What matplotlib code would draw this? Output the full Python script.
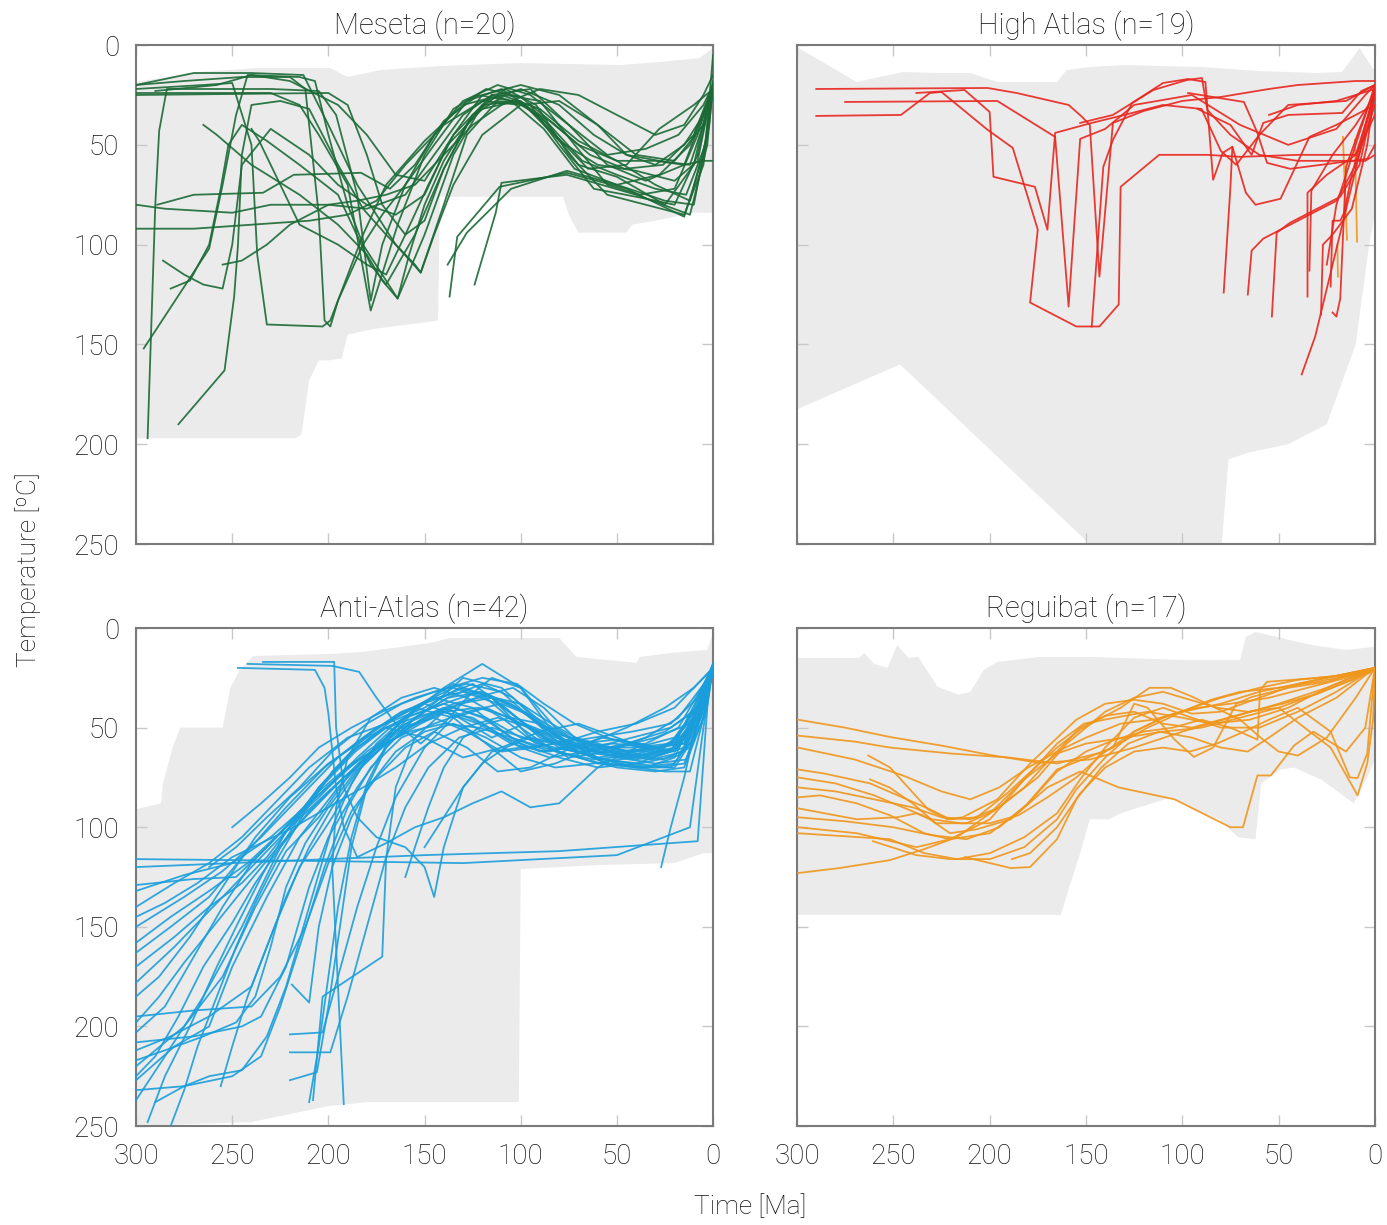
import matplotlib
matplotlib.use("Agg")
import matplotlib.pyplot as plt

# ---- panel titles / colours ----
titles = ["Meseta (n=20)", "High Atlas (n=19)", "Anti-Atlas (n=42)", "Reguibat (n=17)"]
colors = ["#1b6a36", "#e8261f", "#1a9edb", "#f0961c"]
xticks = [300, 250, 200, 150, 100, 50, 0]
yticks = [0, 50, 100, 150, 200, 250]

# ---- grey envelopes: (time Ma, temperature C) ----
meseta_env_top = [(300, 18.5), (268, 13.5), (236, 11.5), (199, 11.5), (190, 16), (173, 12.5),
                  (142, 10.5), (100, 9), (48, 10), (28, 8.5), (7, 6.5), (0, 1.5)]
meseta_env_bot = [(0, 84), (10, 84), (20, 86), (30, 88), (42, 90), (45, 94), (70, 94), (75, 85),
                  (78, 76), (137, 76), (142, 76), (143, 138), (150, 139), (175, 142), (190, 145),
                  (193, 157), (200, 158), (205, 158), (210, 168), (214, 195), (217, 197), (300, 197)]

hatlas_env_top = [(300, 1), (269, 18.5), (245, 13.5), (226, 14), (210, 14), (196, 18.5), (165, 18.5),
                  (160, 12.5), (148, 11), (130, 10), (90, 11), (60, 13), (30, 14), (17, 13.5),
                  (8, 1.5), (1, 12), (0, 12)]
hatlas_env_bot = [(0, 85), (3, 100), (10, 150), (25, 190), (45, 200), (65, 204), (76, 207.5),
                  (80.5, 262), (135, 262), (246.5, 160), (300, 182.5)]

antiatlas_env_top = [(300, 91), (287, 88), (286, 78), (281, 60), (277, 50), (255, 50), (251, 30),
                     (246, 21), (239, 14), (199, 13), (182, 12), (147, 7.5), (137, 5), (80, 5),
                     (71, 14.5), (40, 17.5), (38, 14.5), (22, 12.5), (3, 11), (0, 2)]
antiatlas_env_bot = [(0, 113), (5, 113), (20, 118), (60, 119), (100, 121), (101, 238),
                     (180, 238), (200, 240), (240, 248), (300, 250)]

reguibat_env_top = [(300, 15), (268, 15), (265, 12.5), (260, 18), (253, 20), (248, 8.5), (242, 15),
                    (237, 14.5), (227, 29.5), (216, 33.5), (210, 32), (203, 21), (196, 17),
                    (174, 14.5), (148, 14.5), (100, 16), (70, 16), (67, 4.5), (62, 2), (33, 8.5),
                    (15, 11), (1, 9.5), (0, 9)]
reguibat_env_bot = [(0, 66), (4, 75), (11, 88), (18, 83), (28, 76), (42, 70), (49, 71), (59, 78),
                    (62, 106), (71, 105), (81, 96), (92, 92), (106, 85), (132, 93), (138, 96),
                    (148, 96), (153, 113), (158, 128), (163, 144), (300, 144)]

# ---- thermal histories (time Ma, temperature C) ----
meseta_paths = [
    [(300, 25), (200, 24), (190, 30), (180, 55), (172, 80), (160, 95), (150, 88), (140, 62), (128, 40),
     (115, 25), (95, 22), (75, 40), (55, 60), (35, 68), (15, 60), (5, 35), (0, 20)],
    [(294, 197), (290, 80), (288, 43), (284, 22), (230, 22), (205, 23), (196, 35), (185, 75), (178, 128),
     (172, 100), (160, 70), (145, 50), (128, 28), (110, 22), (90, 35), (70, 60), (50, 66), (25, 80),
     (10, 60), (0, 18)],
    [(296, 152), (262, 102), (255, 70), (248, 35), (242, 15), (215, 16), (207, 18), (200, 45), (190, 80),
     (182, 100), (164, 127), (150, 95), (135, 55), (120, 30), (100, 28), (82, 45), (65, 62), (45, 60),
     (28, 42), (10, 30), (0, 22)],
    [(278, 190), (254, 163), (249, 126), (247, 100), (245, 55), (240, 30), (225, 28), (210, 32), (195, 60),
     (182, 82), (170, 95), (155, 110), (152, 114), (140, 80), (128, 45), (112, 28), (95, 30), (80, 50),
     (62, 72), (40, 76), (20, 80), (8, 55), (0, 20)],
    [(289, 80), (270, 75), (234, 74), (218, 65), (183, 64), (168, 72), (155, 60), (140, 38), (122, 25),
     (105, 28), (88, 42), (72, 62), (50, 70), (28, 65), (12, 50), (0, 22)],
    [(282, 122), (272, 118), (262, 100), (256, 72), (252, 50), (245, 40), (232, 48), (215, 60), (195, 75),
     (178, 110), (170, 120), (155, 95), (140, 62), (125, 35), (108, 22), (92, 30), (75, 55), (55, 75),
     (35, 80), (15, 85), (5, 60), (0, 20)],
    [(300, 22), (265, 20), (250, 19), (240, 50), (237, 105), (232, 140), (203, 141), (199, 138), (195, 128),
     (182, 95), (170, 70), (150, 48), (130, 30), (110, 25), (90, 32), (70, 48), (50, 58), (30, 70),
     (12, 78), (3, 45), (0, 20)],
    [(300, 20), (275, 18), (245, 16), (220, 16), (212, 22), (205, 85), (202, 138), (199, 141), (195, 128),
     (182, 100), (172, 85), (160, 70), (145, 45), (130, 28), (112, 20), (95, 25), (75, 40), (55, 55),
     (35, 52), (18, 45), (5, 30), (0, 20)],
    [(300, 24), (230, 24), (215, 30), (205, 45), (190, 70), (178, 133), (164, 90), (150, 55), (135, 32),
     (118, 22), (100, 26), (82, 40), (64, 55), (46, 62), (26, 60), (10, 45), (0, 20)],
    [(265, 40), (258, 45), (240, 60), (215, 75), (195, 90), (180, 105), (172, 118), (164, 127), (158, 105),
     (150, 80), (140, 58), (125, 35), (108, 25), (90, 28), (72, 50), (55, 70), (38, 75), (20, 72),
     (8, 45), (0, 20)],
    [(300, 20), (270, 14), (240, 14), (213, 15), (200, 40), (185, 70), (165, 100), (152, 114), (145, 95),
     (135, 70), (120, 45), (100, 30), (80, 28), (60, 40), (40, 55), (20, 58), (5, 40), (0, 20)],
    [(137, 126), (133, 96), (111, 71), (76, 64), (45, 72), (15, 86), (5, 55), (0, 20)],
    [(124, 120), (113, 84), (110, 69), (76, 65), (40, 75), (12, 85), (3, 50), (0, 20)],
    [(138, 110), (128, 94), (105, 72), (76, 63), (50, 70), (25, 78), (10, 80), (2, 40), (0, 20)],
    [(290, 23), (258, 20), (240, 15), (220, 18), (195, 30), (180, 45), (165, 65), (150, 68), (135, 45),
     (120, 25), (100, 20), (80, 25), (60, 40), (45, 55), (30, 60), (15, 50), (5, 35), (0, 22)],
    [(300, 80), (285, 82), (250, 84), (230, 80), (200, 80), (180, 82), (160, 75), (145, 55), (130, 35),
     (115, 25), (98, 30), (80, 48), (60, 60), (40, 63), (20, 68), (8, 58), (0, 20)],
    [(300, 92), (270, 92), (240, 90), (210, 88), (190, 85), (175, 78), (160, 60), (140, 40), (120, 28),
     (100, 30), (85, 38), (70, 50), (50, 58), (30, 58), (15, 60), (5, 58), (0, 58)],
    [(255, 110), (245, 108), (232, 100), (220, 90), (200, 80), (185, 78), (170, 75), (155, 70), (140, 55),
     (125, 40), (110, 30), (90, 22), (70, 25), (50, 35), (30, 45), (15, 40), (5, 25), (0, 15)],
    [(240, 42), (236, 48), (230, 60), (215, 90), (195, 100), (180, 110), (170, 115), (160, 95), (148, 70),
     (135, 45), (118, 28), (100, 22), (80, 30), (62, 45), (45, 55), (28, 58), (12, 60), (0, 25)],
    [(286, 108), (275, 115), (265, 120), (255, 122), (250, 100), (245, 60), (230, 42), (210, 55), (195, 70),
     (180, 80), (165, 85), (150, 75), (138, 50), (120, 32), (102, 28), (85, 40), (68, 58), (50, 65),
     (30, 72), (14, 75), (4, 50), (0, 5)],
]

hatlas_paths = [
    [(290, 22), (201, 21.5), (186, 24), (159, 30), (152, 36), (148, 40), (143, 116), (136, 39), (120, 33),
     (100, 28), (80, 26), (55, 22), (40, 20), (10, 18), (0, 18)],
    [(275, 28.5), (196, 28), (166, 46), (159, 131), (153, 47), (140, 42), (125, 30), (95, 25), (70, 40),
     (45, 50), (20, 42), (5, 25), (0, 20)],
    [(290, 35.5), (246, 35), (231, 24), (225, 23.5), (201, 42.5), (188, 51.5), (175, 92.5), (179, 129),
     (155, 141), (143, 141), (133, 130), (132, 71), (112, 55), (87, 55), (70, 56), (40, 55), (10, 55),
     (0, 25)],
    [(238, 24), (213, 22.5), (200, 33.5), (198, 66), (176.5, 71), (170, 92.5), (166, 44), (147, 39),
     (130, 35), (110, 30), (90, 32), (80, 53), (72, 60), (60, 45), (45, 30), (15, 28), (0, 20)],
    [(147, 141), (141, 61), (136, 47.5), (126, 29), (115, 22.5), (97.6, 17.5), (89.8, 16.5), (87, 32.5),
     (75, 45), (60, 55), (40, 58), (20, 58), (5, 58), (0, 55)],
    [(153, 39), (136, 35), (126, 29), (110, 19), (97, 17), (88, 18.5), (84, 67.5), (79, 54), (74, 51),
     (75, 71), (78.5, 124)],
    [(92, 32), (75, 40), (64, 55), (58, 39), (45, 35), (17, 34), (7, 23), (0, 20)],
    [(97, 24), (68, 28.5), (61, 44), (56, 59), (44, 62), (4, 57), (0, 50)],
    [(74, 51), (67, 74), (62, 80), (49, 77), (34, 46), (20, 40), (0, 30)],
    [(35, 126), (35, 74), (25, 65), (10, 55), (0, 35)],
    [(53.5, 136), (51, 94), (44, 89), (18, 76), (8, 60), (0, 25)],
    [(38, 165), (31, 146), (0, 22.5)],
    [(22, 134), (20, 136), (18, 127), (15, 61), (8, 42), (0, 22)],
    [(34, 113), (33, 73), (22, 55), (10, 40), (0, 25)],
    [(23, 121), (22, 88), (18, 88), (16, 84), (12, 65), (5, 40), (0, 22)],
    [(55, 35), (40, 30), (20, 28), (10, 25), (0, 22)],
    [(25, 110), (20, 80), (10, 50), (0, 20)],
    [(66, 125), (64, 103), (58, 97), (40, 88), (20, 78), (10, 60), (0, 30)],
    [(28, 135), (27, 100), (22, 95), (12, 82), (4, 50), (0, 22)],
]
hatlas_extra = [
    [(16.6, 46), (15.5, 75), (14.5, 97.5)],
    [(10.4, 47.5), (9.8, 75), (9.3, 98.5)],
    [(19.5, 100), (19.2, 116)],
]

antiatlas_paths = [
    [(300, 237), (285, 215), (265, 185), (245, 150), (225, 110), (205, 80), (185, 60), (165, 45), (145, 35),
     (125, 40), (105, 55), (85, 62), (65, 58), (45, 50), (25, 40), (10, 30), (0, 20)],
    [(300, 227), (280, 210), (262, 200), (250, 170), (232, 135), (215, 105), (195, 80), (175, 60), (155, 40),
     (135, 28), (115, 35), (95, 55), (75, 65), (55, 62), (35, 55), (18, 45), (0, 22)],
    [(300, 220), (275, 200), (255, 175), (238, 140), (222, 112), (205, 95), (188, 72), (170, 55), (150, 42),
     (130, 25), (110, 30), (92, 45), (75, 60), (55, 68), (35, 70), (20, 65), (8, 40), (0, 18)],
    [(300, 212), (282, 205), (262, 195), (240, 180), (228, 150), (215, 120), (198, 95), (180, 65), (160, 45),
     (140, 30), (120, 18), (100, 30), (82, 50), (62, 62), (40, 66), (22, 62), (10, 45), (0, 20)],
    [(300, 203), (285, 190), (270, 165), (255, 140), (240, 118), (222, 100), (205, 85), (185, 65), (168, 50),
     (150, 38), (132, 45), (115, 55), (98, 48), (80, 55), (60, 65), (40, 70), (20, 70), (10, 55), (0, 22)],
    [(300, 178), (280, 160), (260, 140), (240, 120), (220, 100), (200, 82), (180, 65), (160, 48), (140, 40),
     (120, 48), (100, 60), (80, 58), (60, 52), (40, 48), (20, 40), (0, 20)],
    [(300, 163), (282, 150), (262, 135), (242, 112), (222, 90), (202, 70), (182, 55), (162, 42), (142, 35),
     (125, 28), (108, 40), (90, 55), (70, 62), (50, 60), (30, 55), (12, 48), (0, 20)],
    [(300, 150), (275, 135), (255, 122), (235, 105), (215, 85), (195, 65), (175, 50), (155, 40), (135, 45),
     (118, 58), (100, 72), (82, 68), (62, 60), (42, 55), (22, 50), (8, 40), (0, 18)],
    [(300, 140), (280, 128), (262, 118), (245, 105), (228, 88), (210, 70), (190, 55), (170, 48), (150, 40),
     (132, 30), (115, 35), (98, 48), (80, 60), (60, 65), (40, 62), (20, 58), (0, 20)],
    [(300, 129), (270, 126), (248, 125), (232, 110), (215, 92), (198, 78), (180, 62), (162, 50), (145, 45),
     (128, 52), (110, 62), (92, 60), (72, 55), (52, 60), (32, 65), (15, 60), (0, 20)],
    [(300, 120), (150, 114), (80, 112), (8, 107), (3, 40), (0, 18)],
    [(300, 116), (200, 117), (130, 118), (50, 114), (12, 100), (5, 50), (0, 20)],
    [(294, 248), (285, 225), (272, 200), (258, 170), (248, 150), (235, 125), (222, 102), (205, 80), (188, 62),
     (170, 50), (150, 55), (130, 65), (110, 60), (90, 52), (70, 48), (50, 55), (30, 62), (15, 55), (0, 22)],
    [(290, 238), (275, 230), (262, 225), (245, 222), (232, 205), (222, 180), (210, 140), (198, 100), (188, 78),
     (175, 58), (160, 45), (140, 38), (120, 45), (100, 58), (80, 65), (60, 70), (40, 68), (22, 62), (10, 40),
     (0, 20)],
    [(300, 232), (275, 230), (250, 225), (235, 215), (225, 190), (215, 160), (202, 120), (190, 90), (178, 70),
     (162, 55), (145, 48), (128, 42), (110, 38), (92, 45), (75, 55), (55, 60), (35, 58), (18, 50), (0, 20)],
    [(300, 195), (270, 192), (240, 190), (225, 175), (212, 150), (200, 118), (188, 92), (175, 75), (160, 60),
     (145, 52), (128, 60), (112, 72), (95, 70), (78, 62), (58, 55), (38, 58), (20, 62), (8, 45), (0, 20)],
    [(300, 208), (270, 205), (245, 200), (235, 195), (222, 170), (210, 130), (200, 105), (185, 80), (170, 60),
     (155, 45), (138, 35), (120, 28), (104, 35), (88, 50), (70, 60), (50, 65), (30, 68), (14, 66), (5, 40),
     (0, 22)],
    [(220, 204), (203, 203), (195, 175), (185, 140), (175, 110), (165, 85), (150, 60), (135, 45), (118, 40),
     (100, 48), (82, 55), (62, 60), (42, 60), (22, 58), (8, 40), (0, 20)],
    [(220, 213), (199, 213), (190, 185), (180, 150), (170, 115), (160, 90), (148, 70), (132, 55), (115, 50),
     (98, 55), (80, 62), (60, 68), (40, 70), (20, 68), (8, 50), (0, 20)],
    [(220, 227), (206, 223), (200, 190), (194, 150), (188, 110), (180, 80), (170, 60), (155, 45), (138, 35),
     (120, 32), (102, 40), (85, 52), (65, 58), (45, 62), (25, 60), (10, 45), (0, 20)],
    [(210, 238), (205, 210), (200, 175), (195, 140), (188, 105), (180, 78), (168, 55), (152, 38), (135, 30),
     (118, 35), (100, 50), (82, 62), (62, 66), (42, 64), (22, 58), (8, 42), (0, 20)],
    [(192, 239), (194, 200), (196, 160), (198, 120), (196, 90), (190, 65), (178, 45), (162, 35), (145, 30),
     (128, 35), (110, 45), (92, 58), (72, 62), (52, 64), (32, 66), (15, 62), (0, 22)],
    [(219, 179), (210, 188), (205, 150), (198, 120), (188, 95), (178, 78), (165, 62), (150, 52), (135, 48),
     (118, 55), (100, 65), (82, 70), (62, 68), (42, 65), (22, 62), (8, 45), (0, 20)],
    [(208, 237), (203, 185), (172, 165), (170, 116), (165, 80), (155, 55), (140, 42), (122, 48), (105, 58),
     (88, 62), (70, 58), (50, 56), (30, 60), (12, 55), (0, 20)],
    [(247, 20), (207, 21), (202, 30), (200, 43), (196, 80), (192, 100), (185, 115), (170, 108), (155, 100),
     (140, 95), (125, 88), (110, 82), (95, 90), (80, 88), (60, 70), (40, 60), (20, 55), (5, 35), (0, 18)],
    [(234, 17), (197, 17), (196, 50), (192, 80), (185, 95), (175, 105), (160, 110), (150, 120), (145, 135),
     (140, 110), (130, 80), (115, 62), (100, 60), (85, 65), (65, 62), (45, 58), (25, 52), (10, 42), (0, 20)],
    [(242, 18), (198, 19), (184, 22), (175, 35), (165, 48), (152, 58), (140, 48), (128, 35), (115, 25),
     (100, 30), (85, 50), (70, 62), (55, 68), (40, 70), (25, 72), (12, 72), (5, 45), (0, 20)],
    [(300, 185), (288, 175), (272, 155), (255, 130), (238, 105), (220, 85), (200, 68), (180, 55), (160, 45),
     (140, 38), (122, 32), (105, 38), (88, 50), (70, 62), (50, 68), (30, 70), (15, 68), (5, 45), (0, 20)],
    [(300, 170), (280, 155), (262, 140), (245, 128), (232, 115), (220, 100), (205, 82), (188, 68), (170, 58),
     (152, 48), (135, 40), (118, 45), (100, 55), (82, 58), (62, 55), (42, 52), (22, 48), (8, 35), (0, 18)],
    [(262, 120), (248, 110), (232, 95), (215, 80), (198, 62), (180, 48), (162, 38), (145, 32), (128, 28),
     (110, 32), (95, 45), (80, 58), (62, 65), (42, 68), (22, 70), (10, 55), (0, 22)],
    [(250, 100), (235, 88), (220, 75), (205, 60), (188, 50), (172, 42), (155, 35), (138, 30), (120, 25),
     (102, 28), (88, 38), (72, 48), (55, 55), (38, 60), (20, 62), (8, 45), (0, 20)],
    [(300, 225), (290, 215), (278, 195), (265, 170), (250, 148), (238, 128), (225, 110), (210, 92), (192, 75),
     (175, 62), (158, 50), (140, 42), (122, 40), (105, 45), (88, 55), (68, 60), (48, 62), (28, 60), (12, 52),
     (0, 20)],
    [(300, 217), (285, 212), (265, 205), (248, 198), (238, 185), (230, 160), (222, 130), (212, 108), (200, 90),
     (186, 72), (170, 58), (150, 45), (132, 38), (115, 35), (98, 42), (80, 55), (60, 62), (40, 64), (20, 60),
     (6, 40), (0, 20)],
    [(300, 145), (285, 138), (268, 128), (250, 115), (235, 108), (218, 100), (200, 90), (182, 80), (165, 70),
     (148, 58), (130, 50), (112, 45), (95, 50), (78, 58), (58, 62), (38, 64), (18, 60), (5, 40), (0, 20)],
    [(282, 250), (275, 232), (268, 210), (258, 185), (248, 160), (238, 138), (226, 115), (212, 92), (198, 72),
     (182, 56), (165, 44), (148, 36), (130, 32), (112, 38), (95, 50), (78, 60), (58, 66), (38, 68), (18, 64),
     (6, 45), (0, 20)],
    [(300, 198), (288, 185), (275, 168), (260, 150), (245, 132), (228, 112), (212, 95), (195, 78), (178, 62),
     (160, 50), (142, 42), (125, 45), (108, 55), (90, 62), (72, 60), (52, 58), (32, 60), (15, 58), (0, 20)],
    [(160, 125), (155, 110), (148, 90), (140, 70), (130, 55), (118, 48), (105, 45), (90, 48), (75, 55),
     (58, 60), (40, 62), (22, 62), (8, 48), (0, 20)],
    [(300, 132), (275, 124), (250, 118), (230, 105), (210, 88), (192, 72), (175, 60), (158, 52), (140, 48),
     (122, 50), (105, 55), (88, 60), (70, 65), (50, 70), (30, 72), (15, 70), (5, 45), (0, 20)],
    [(150, 110), (140, 95), (130, 80), (120, 68), (108, 60), (95, 55), (80, 58), (65, 62), (48, 62), (30, 60),
     (15, 58), (0, 20)],
    [(27, 120), (22, 100), (15, 75), (8, 45), (0, 20)],
    [(300, 158), (282, 145), (262, 132), (242, 118), (222, 100), (204, 80), (186, 62), (170, 50), (152, 44),
     (136, 40), (120, 34), (104, 30), (88, 40), (72, 55), (55, 62), (35, 64), (18, 60), (6, 42), (0, 20)],
    [(256, 230), (250, 210), (242, 185), (232, 160), (222, 135), (210, 110), (198, 90), (185, 72), (170, 58),
     (152, 46), (135, 38), (118, 34), (100, 38), (84, 48), (66, 58), (46, 64), (26, 66), (12, 60), (0, 20)],
]

reguibat_paths = [
    [(299.5, 46), (275, 50), (251.7, 54.7), (225, 59), (199.8, 63.7), (174, 67.7), (148, 66), (125, 60),
     (100, 52), (75, 45), (50, 38), (25, 30), (10, 24), (0, 20)],
    [(299.5, 54), (270, 57), (251.7, 60), (220, 63), (190, 65), (165, 68), (140, 62), (118, 50), (100, 42),
     (80, 38), (60, 32), (40, 28), (20, 24), (0, 20)],
    [(299.5, 71), (286, 73), (262, 78), (231, 91), (220.6, 96), (206.6, 95), (191, 83), (165, 60), (153, 51),
     (132, 40), (117, 30), (106, 30), (94.5, 34.6), (70, 46), (59.7, 54.7), (50, 62), (40, 64), (25, 55),
     (10, 35), (0, 20)],
    [(263, 64), (251.7, 70), (232, 91), (222, 96), (214, 95), (196, 86), (179, 68), (155, 46), (140, 38),
     (125, 36), (110, 38), (95, 43), (80, 42), (60, 35), (40, 28), (20, 24), (0, 20)],
    [(299.5, 85), (288, 84), (269, 88), (251.7, 94), (234, 103), (220.6, 106), (199.8, 103), (182, 90),
     (165, 71), (149, 65), (136, 60), (125, 38), (118, 40), (104, 56), (94, 64.7), (84, 60), (72, 38),
     (64, 34.6), (45, 30), (25, 27), (0, 20)],
    [(299.5, 90.5), (269, 96), (248, 95), (238, 93), (231, 96), (220.6, 103), (206.6, 101), (189, 96),
     (170, 80), (153, 72), (133, 80), (104, 86), (75, 100), (68.5, 100), (61, 74), (54, 74), (42, 59),
     (32, 52), (15, 62), (5, 50), (0, 20)],
    [(299.5, 100), (269, 103), (238, 110), (220.6, 106), (199.8, 96), (182, 76), (165, 63), (150, 58),
     (130, 55), (110, 52), (90, 50), (70, 45), (50, 40), (30, 33), (12, 26), (0, 20)],
    [(299.5, 103), (251.7, 106), (234, 113), (217, 116), (199.8, 113), (182, 105), (165, 93), (153, 76),
     (140, 60), (125, 45), (110, 40), (95, 45), (80, 50), (60, 50), (40, 42), (20, 32), (0, 20)],
    [(299.5, 123), (278, 120.5), (251.7, 116.5), (234, 111), (217, 105), (199.8, 93), (182, 76), (165, 58),
     (151, 48), (135, 45), (118, 42), (100, 45), (85, 48), (65, 46), (45, 40), (25, 30), (0, 20)],
    [(260.6, 107), (238, 114), (220.6, 116), (199.8, 116), (182, 110), (165, 96), (155, 81), (140, 65),
     (125, 52), (108, 44), (92, 40), (75, 38), (55, 35), (35, 30), (15, 25), (0, 20)],
    [(212.8, 115), (189, 120.5), (179, 120), (165, 106), (155, 86), (142, 70), (128, 58), (112, 52), (95, 55),
     (80, 60), (66, 62), (55, 55), (40, 45), (20, 35), (0, 20)],
    [(188.4, 116), (179, 113), (165, 100), (153, 83), (140, 70), (125, 62), (110, 60), (96, 62), (82, 58),
     (68, 52), (55, 46), (40, 40), (23, 52), (13, 75), (9, 75.3), (4, 63), (1, 30), (0, 20)],
    [(299.5, 80), (280, 82), (260, 86), (240, 90), (225, 95), (210, 96), (195, 90), (175, 75), (160, 58),
     (140, 42), (125, 35), (110, 32), (96, 36), (82, 40), (66, 42), (50, 40), (23, 60), (9, 84), (4, 68),
     (1, 46), (0, 22)],
    [(299.5, 95), (275, 97), (250, 100), (230, 104), (212, 106), (195, 100), (180, 88), (165, 72), (150, 62),
     (135, 56), (120, 52), (105, 50), (90, 46), (75, 50), (61, 56), (59.6, 31), (56, 27), (30, 25),
     (3, 22.6), (0, 20)],
    [(299.5, 60), (270, 66), (245, 74), (225, 82), (210, 86), (195, 80), (180, 70), (165, 62), (150, 55),
     (132, 48), (115, 46), (100, 42), (85, 36), (70, 32), (50, 30), (30, 27), (10, 23), (0, 20)],
    [(262, 76), (252, 80), (240, 88), (228, 98), (212, 98), (198, 92), (182, 80), (168, 65), (153, 50),
     (140, 44), (125, 42), (110, 48), (95, 50), (80, 46), (65, 42), (48, 38), (30, 33), (12, 26), (0, 20)],
    [(299.5, 75), (280, 78), (260, 84), (245, 90), (230, 96), (215, 98), (200, 98), (185, 94), (170, 85),
     (155, 75), (140, 62), (125, 52), (110, 45), (95, 40), (80, 35), (60, 30), (40, 26), (20, 24), (0, 20)],
]

envelopes = [(meseta_env_top, meseta_env_bot), (hatlas_env_top, hatlas_env_bot),
             (antiatlas_env_top, antiatlas_env_bot), (reguibat_env_top, reguibat_env_bot)]
all_paths = [meseta_paths, hatlas_paths, antiatlas_paths, reguibat_paths]

plt.rcParams['font.family'] = ['Roboto', 'DejaVu Sans']
plt.rcParams['font.weight'] = 'light'
plt.rcParams['text.color'] = '#111111'
plt.rcParams['xtick.labelcolor'] = '#111111'
plt.rcParams['ytick.labelcolor'] = '#111111'

fig = plt.figure(figsize=(13.87, 12.25), dpi=100)
positions = [
    [0.0981, 0.5559, 0.4160, 0.4073],
    [0.5746, 0.5559, 0.4167, 0.4073],
    [0.0981, 0.0808, 0.4160, 0.4065],
    [0.5746, 0.0808, 0.4167, 0.4065],
]

for i in range(4):
    ax = fig.add_axes(positions[i])
    top, bot = envelopes[i]
    poly = top + bot
    ax.fill([p[0] for p in poly], [p[1] for p in poly], color="#ebebeb", lw=0, zorder=1)

    for path in all_paths[i]:
        ax.plot([p[0] for p in path], [p[1] for p in path], color=colors[i], lw=1.3,
                alpha=0.9, zorder=3)
    if i == 1:
        for path in hatlas_extra:
            ax.plot([p[0] for p in path], [p[1] for p in path], color=colors[3], lw=1.3,
                    alpha=0.9, zorder=2)

    ax.set_xlim(300, 0)
    ax.set_ylim(250, 0)
    ax.set_xticks(xticks)
    ax.set_yticks(yticks)
    ax.tick_params(direction='in', length=8, width=1, color='#c8c8c8', top=True, right=True,
                   labelsize=20, pad=12)
    if i < 2:
        ax.tick_params(labelbottom=False)
    if i % 2 == 1:
        ax.tick_params(labelleft=False)
    for sp in ax.spines.values():
        sp.set_color('#7a7a7a')
        sp.set_linewidth(1.5)
    ax.set_title(titles[i], fontsize=21, fontweight='light', pad=8)

fig.text(0.020, 0.535, "Temperature [ºC]", rotation=90, ha='center', va='center', fontsize=19)
fig.text(0.541, 0.015, "Time [Ma]", ha='center', va='center', fontsize=19)

fig.savefig("out.png", dpi=100)
